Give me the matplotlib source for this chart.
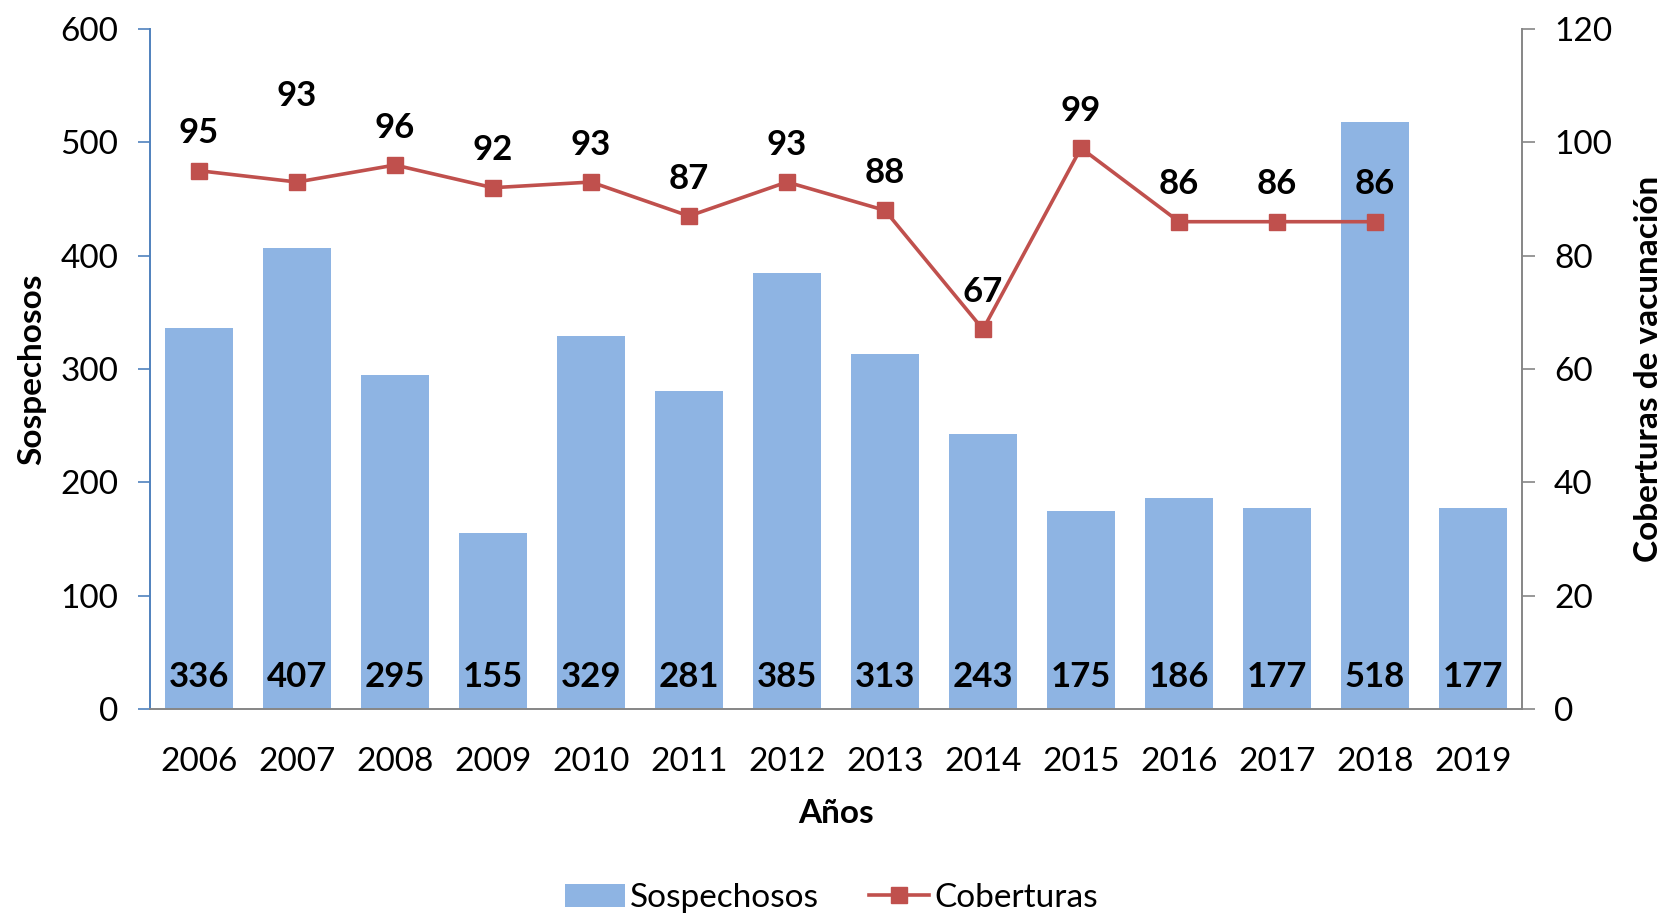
import numpy as np
import matplotlib
matplotlib.use("Agg")
import matplotlib.pyplot as plt

# data
years = ["2006", "2007", "2008", "2009", "2010", "2011", "2012",
         "2013", "2014", "2015", "2016", "2017", "2018", "2019"]
sospechosos = [336, 407, 295, 155, 329, 281, 385, 313, 243, 175, 186, 177, 518, 177]
cob_years = years[:13]
coberturas = [95, 93, 96, 92, 93, 87, 93, 88, 67, 99, 86, 86, 86]

plt.rcParams['font.family'] = ['Lato', 'DejaVu Sans']

bar_color = "#8EB4E3"
line_color = "#C0504D"

fig = plt.figure(figsize=(16.63, 9.13), dpi=100)
ax = fig.add_axes([0.0902, 0.2234, 0.8250, 0.7448])
ax2 = ax.twinx()

x = np.arange(len(years))
bars = ax.bar(x, sospechosos, width=0.69, color=bar_color, label="Sospechosos", zorder=2)
ax.set_xlim(-0.5, len(years) - 0.5)
ax.set_ylim(0, 600)
ax.set_yticks(np.arange(0, 601, 100))

# bar values near the base
for xi, v in zip(x, sospechosos):
    ax.text(xi, 28, str(v), ha="center", va="center", fontsize=25, fontweight="bold")

xc = np.arange(len(cob_years))
line, = ax2.plot(xc, coberturas, color=line_color, lw=2.6, marker="s", markersize=11,
                 label="Coberturas", zorder=3)
ax2.set_ylim(0, 120)
ax2.set_yticks(np.arange(0, 121, 20))

for xi, v in zip(xc, coberturas):
    off = 62 if xi == 1 else 27
    ax2.annotate(str(v), (xi, v), xytext=(0, off), textcoords="offset points",
                 ha="center", va="center", fontsize=25, fontweight="bold")

ax.set_xticks(x)
ax.set_xticklabels(years)
ax.tick_params(axis="x", length=0, labelsize=24, pad=27)
ax.tick_params(axis="y", direction="out", length=9, width=1.2, color="#4F81BD", labelsize=24, pad=14)
ax2.tick_params(axis="y", direction="out", length=9, width=1.2, color="#868686", labelsize=24, pad=14)

for a in (ax, ax2):
    a.spines["top"].set_visible(False)
ax.spines["left"].set_color("#4F81BD")
ax.spines["left"].set_linewidth(1.4)
ax.spines["right"].set_visible(False)
ax2.spines["left"].set_visible(False)
ax2.spines["bottom"].set_visible(False)
ax2.spines["right"].set_color("#868686")
ax2.spines["right"].set_linewidth(1.4)
ax.spines["bottom"].set_color("#868686")
ax.spines["bottom"].set_linewidth(1.4)

ax.set_xlabel("Años", fontsize=24, fontweight="bold", labelpad=16)
ax.set_ylabel("Sospechosos", fontsize=24, fontweight="bold", labelpad=10)
ax2.set_ylabel("Coberturas de vacunación", fontsize=24, fontweight="bold", labelpad=16)

fig.legend(handles=[bars, line], loc="lower center", bbox_to_anchor=(0.5, -0.033), ncol=2,
           frameon=False, fontsize=24, handlelength=1.8, handletextpad=0.15, columnspacing=1.5)

fig.savefig("out.png", dpi=100)
